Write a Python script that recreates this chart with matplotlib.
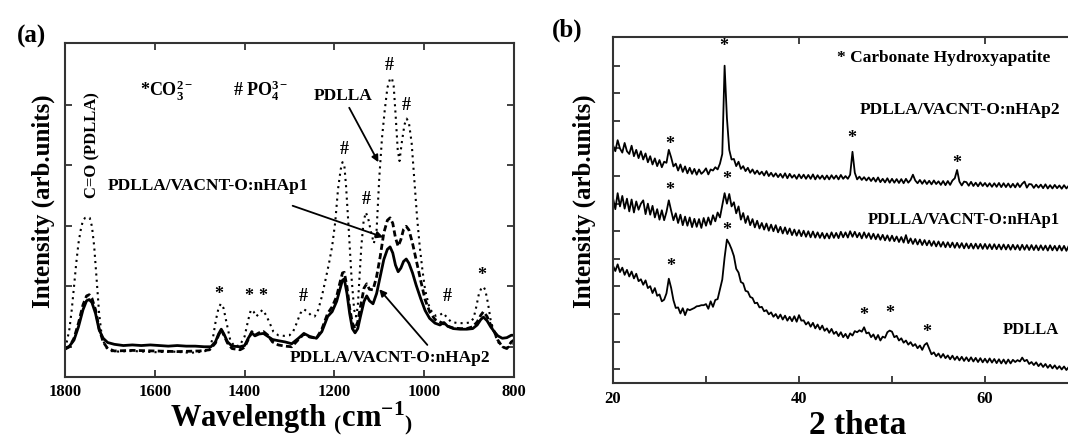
import numpy as np
import matplotlib
matplotlib.use("Agg")
import matplotlib.pyplot as plt

plt.rcParams['font.family'] = 'serif'
plt.rcParams['font.serif'] = ['Liberation Serif', 'DejaVu Serif']
plt.rcParams['font.weight'] = 'bold'
plt.rcParams['mathtext.fontset'] = 'custom'
plt.rcParams['mathtext.rm'] = 'Liberation Serif:bold'
plt.rcParams['mathtext.bf'] = 'Liberation Serif:bold'
plt.rcParams['mathtext.it'] = 'Liberation Serif:bold:italic'

# ---------------- Panel (a): FTIR ----------------
wn_pdlla = [1800, 1795, 1790, 1785, 1780, 1775, 1770, 1765, 1760, 1755, 1750, 1745, 1740, 1735, 1730,
            1724, 1718, 1710, 1700, 1680, 1650, 1600, 1560, 1520, 1490, 1478, 1470, 1464, 1458, 1453,
            1447, 1440, 1432, 1422, 1410, 1400, 1392, 1386, 1380, 1374, 1368, 1360, 1352, 1344, 1336,
            1325, 1312, 1300, 1292, 1284, 1276, 1268, 1260, 1252, 1244, 1236, 1228, 1220, 1212, 1205,
            1198, 1192, 1186, 1182, 1178, 1174, 1168, 1162, 1156, 1152, 1148, 1144, 1140, 1135, 1130,
            1125, 1118, 1112, 1106, 1100, 1094, 1088, 1082, 1076, 1072, 1068, 1064, 1059, 1055, 1050,
            1044, 1039, 1034, 1028, 1022, 1016, 1010, 1004, 998, 990, 982, 974, 966, 958, 950,
            940, 925, 910, 898, 890, 884, 878, 872, 868, 864, 858, 852, 845, 836, 826,
            816, 806, 800]
int_pdlla = [0.47, 0.61, 0.80, 1.11, 1.49, 1.88, 2.21, 2.43, 2.59, 2.63, 2.64, 2.63, 2.49, 2.16, 1.66,
             1.05, 0.67, 0.50, 0.43, 0.42, 0.43, 0.41, 0.42, 0.40, 0.42, 0.47, 0.67, 0.94, 1.14, 1.21,
             1.14, 0.89, 0.61, 0.50, 0.53, 0.67, 0.94, 1.11, 1.08, 1.00, 1.05, 1.11, 1.02, 0.89, 0.75,
             0.69, 0.68, 0.69, 0.75, 0.89, 1.05, 1.12, 1.08, 1.02, 1.00, 1.11, 1.33, 1.60, 1.88, 2.16,
             2.57, 3.10, 3.43, 3.55, 3.51, 3.15, 2.43, 1.66, 1.11, 1.00, 1.16, 1.66, 2.16, 2.57, 2.72,
             2.63, 2.38, 2.21, 2.43, 3.30, 3.95, 4.40, 4.78, 4.93, 4.94, 4.81, 4.37, 3.76, 3.57, 3.87,
             4.17, 4.27, 4.20, 3.87, 3.26, 2.65, 2.16, 1.77, 1.44, 1.19, 1.06, 1.01, 1.02, 1.06, 0.99,
             0.91, 0.89, 0.89, 0.90, 0.97, 1.16, 1.38, 1.48, 1.49, 1.44, 1.22, 0.94, 0.75, 0.58, 0.50,
             0.47, 0.54, 0.55]

wn_hap1 = [1800, 1790, 1780, 1770, 1760, 1752, 1746, 1740, 1732, 1724, 1715, 1705, 1690, 1650, 1600,
           1550, 1500, 1478, 1465, 1458, 1452, 1446, 1438, 1428, 1410, 1400, 1392, 1384, 1377, 1368,
           1358, 1348, 1338, 1325, 1310, 1295, 1280, 1268, 1255, 1240, 1228, 1215, 1205, 1195, 1188,
           1182, 1178, 1172, 1166, 1160, 1154, 1148, 1142, 1134, 1128, 1122, 1114, 1106, 1098, 1090,
           1082, 1076, 1070, 1064, 1058, 1052, 1046, 1040, 1034, 1026, 1018, 1008, 998, 988, 976,
           965, 956, 948, 935, 920, 905, 892, 882, 874, 868, 860, 852, 844, 836, 826,
           816, 806, 800]
int_hap1 = [0.46, 0.50, 0.64, 0.89, 1.19, 1.34, 1.36, 1.30, 1.11, 0.80, 0.58, 0.47, 0.43, 0.44, 0.43,
            0.42, 0.43, 0.45, 0.56, 0.69, 0.78, 0.69, 0.56, 0.47, 0.45, 0.49, 0.62, 0.75, 0.69, 0.73,
            0.75, 0.69, 0.58, 0.53, 0.51, 0.50, 0.62, 0.71, 0.66, 0.64, 0.79, 1.05, 1.16, 1.33, 1.55,
            1.72, 1.73, 1.49, 1.14, 0.89, 0.80, 0.91, 1.16, 1.47, 1.54, 1.45, 1.44, 1.66, 1.99, 2.38,
            2.59, 2.63, 2.54, 2.30, 2.16, 2.27, 2.44, 2.49, 2.43, 2.21, 1.94, 1.60, 1.28, 1.08, 0.95,
            0.91, 0.88, 0.84, 0.81, 0.80, 0.80, 0.83, 0.91, 1.02, 1.08, 1.00, 0.86, 0.75, 0.61, 0.50,
            0.47, 0.58, 0.61]

wn_hap2 = [1800, 1790, 1780, 1770, 1760, 1752, 1746, 1740, 1732, 1724, 1715, 1705, 1690, 1670, 1650,
           1630, 1610, 1590, 1570, 1550, 1530, 1510, 1490, 1475, 1465, 1458, 1452, 1446, 1438, 1428,
           1410, 1400, 1392, 1384, 1377, 1368, 1358, 1348, 1338, 1325, 1310, 1295, 1280, 1268, 1255,
           1240, 1228, 1215, 1205, 1195, 1188, 1182, 1178, 1172, 1166, 1160, 1154, 1148, 1142, 1134,
           1128, 1122, 1114, 1106, 1098, 1090, 1082, 1076, 1070, 1064, 1058, 1052, 1046, 1040, 1034,
           1026, 1018, 1008, 998, 988, 976, 965, 956, 948, 935, 920, 905, 892, 882, 874,
           868, 860, 852, 844, 836, 826, 816, 806, 800]
int_hap2 = [0.47, 0.51, 0.61, 0.83, 1.11, 1.26, 1.28, 1.23, 1.05, 0.78, 0.64, 0.57, 0.54, 0.52, 0.53,
            0.52, 0.53, 0.52, 0.51, 0.52, 0.51, 0.51, 0.50, 0.50, 0.58, 0.71, 0.79, 0.71, 0.58, 0.51,
            0.50, 0.52, 0.64, 0.73, 0.68, 0.71, 0.72, 0.67, 0.62, 0.60, 0.58, 0.55, 0.64, 0.72, 0.67,
            0.64, 0.75, 1.00, 1.08, 1.25, 1.44, 1.60, 1.62, 1.38, 1.05, 0.80, 0.73, 0.80, 1.00, 1.25,
            1.34, 1.26, 1.21, 1.38, 1.66, 1.94, 2.11, 2.15, 2.05, 1.85, 1.74, 1.80, 1.91, 1.95, 1.88,
            1.72, 1.52, 1.30, 1.10, 0.97, 0.89, 0.86, 0.90, 0.84, 0.80, 0.79, 0.79, 0.80, 0.86, 0.95,
            0.99, 0.93, 0.83, 0.75, 0.68, 0.64, 0.65, 0.69, 0.69]

wn_ticks = [1800, 1600, 1400, 1200, 1000, 800]

# ---------------- Panel (b): XRD ----------------
two_theta = np.arange(20.0, 70.51, 0.25)
xrd_hap2 = [
    8.62, 8.40, 8.80, 8.50,  8.35, 8.70, 8.40, 8.30,  8.60, 8.22, 8.45, 8.15,  8.40, 8.10, 8.32, 8.00,
    8.22, 7.92, 8.14, 7.86,  8.08, 7.82, 8.02, 7.98,  8.45, 8.18, 7.85, 7.95,  7.70, 7.92, 7.65, 7.85,
    7.60, 7.80, 7.58, 7.76,  7.55, 7.74, 7.58, 7.66,  7.78, 7.56, 7.74, 7.70,  7.82, 7.74, 7.95, 8.30,
    11.50, 9.60, 8.45, 8.10, 8.12, 7.86, 8.02, 7.76, 7.86, 7.68, 7.80, 7.62,  7.74, 7.58, 7.70, 7.56,
    7.66, 7.52, 7.68, 7.50,  7.62, 7.48, 7.60, 7.46,  7.58, 7.44, 7.60, 7.42,  7.58, 7.44, 7.54, 7.40,
    7.56, 7.42, 7.55, 7.40,  7.54, 7.40, 7.56, 7.38,  7.53, 7.40, 7.52, 7.38,  7.52, 7.38, 7.53, 7.40,
    7.52, 7.38, 7.54, 7.40,  7.50, 7.40, 7.55, 8.38,  7.62, 7.38, 7.48, 7.36,  7.46, 7.34, 7.45, 7.32,
    7.44, 7.30, 7.45, 7.28,  7.40, 7.27, 7.42, 7.26,  7.40, 7.26, 7.39, 7.25,  7.39, 7.24, 7.40, 7.26,
    7.36, 7.55, 7.34, 7.24,  7.36, 7.22, 7.35, 7.21,  7.33, 7.20, 7.34, 7.21,  7.31, 7.18, 7.32, 7.17,
    7.32, 7.18, 7.34, 7.42,  7.72, 7.30, 7.16, 7.30,  7.28, 7.15, 7.29, 7.14,  7.26, 7.13, 7.27, 7.14,
    7.25, 7.12, 7.24, 7.11,  7.24, 7.11, 7.25, 7.10,  7.24, 7.10, 7.23, 7.09,  7.22, 7.09, 7.24, 7.10,
    7.22, 7.30, 7.08, 7.21,  7.20, 7.07, 7.19, 7.08,  7.19, 7.06, 7.20, 7.05,  7.17, 7.05, 7.18, 7.06,
    7.16, 7.04, 7.17, 7.05,  7.15, 7.03, 7.16, 7.04,  7.13, 7.02, 7.12]
xrd_hap1 = [
    6.70, 6.30, 6.88, 6.40,  6.78, 6.32, 6.68, 6.22,  6.65, 6.18, 6.58, 6.28,  6.50, 6.62, 6.12, 6.50,
    6.10, 6.42, 6.00, 6.30,  5.92, 6.26, 5.90, 6.20,  6.62, 6.25, 5.90, 6.15,  5.80, 6.10, 5.72, 6.03,
    5.70, 6.00, 5.65, 5.95,  5.66, 5.94, 5.62, 5.98,  5.70, 6.00, 5.74, 6.08,  5.86, 6.18, 6.00, 6.45,
    6.88, 6.50, 6.85, 6.40,  6.55, 6.15, 6.40, 5.92,  6.16, 5.80, 6.05, 5.72,  5.94, 5.64, 5.88, 5.60,
    5.80, 5.56, 5.78, 5.52,  5.74, 5.50, 5.72, 5.46,  5.66, 5.42, 5.64, 5.40,  5.60, 5.36, 5.56, 5.34,
    5.54, 5.32, 5.52, 5.30,  5.50, 5.28, 5.49, 5.27,  5.46, 5.26, 5.44, 5.24,  5.42, 5.24, 5.46, 5.26,
    5.44, 5.25, 5.48, 5.28,  5.46, 5.27, 5.50, 5.30,  5.48, 5.28, 5.44, 5.24,  5.46, 5.26, 5.43, 5.22,
    5.41, 5.21, 5.39, 5.19,  5.37, 5.17, 5.35, 5.15,  5.34, 5.14, 5.31, 5.11,  5.29, 5.09, 5.36, 5.07,
    5.24, 5.04, 5.22, 5.02,  5.20, 5.00, 5.18, 4.99,  5.16, 4.97, 5.14, 4.95,  5.13, 4.94, 5.11, 4.92,
    5.10, 4.92, 5.09, 4.90,  5.08, 4.90, 5.07, 4.88,  5.06, 4.88, 5.05, 4.87,  5.05, 4.87, 5.04, 4.86,
    5.04, 4.86, 5.03, 4.85,  5.03, 4.85, 5.02, 4.84,  5.02, 4.84, 5.01, 4.83,  5.01, 4.84, 5.00, 4.82,
    5.01, 4.83, 5.00, 4.82,  5.00, 4.82, 4.99, 4.81,  4.99, 4.82, 4.98, 4.80,  4.99, 4.81, 4.97, 4.80,
    4.98, 4.80, 4.97, 4.79,  4.97, 4.80, 4.96, 4.79,  4.96, 4.79, 4.95]
xrd_pdlla = [
    4.25, 4.06, 4.30, 4.02,  4.18, 3.92, 4.10, 3.86,  4.04, 3.79, 3.96, 3.69,  3.76, 3.56, 3.72, 3.44,
    3.51, 3.26, 3.44, 3.16,  3.21, 2.96, 3.02, 3.25,  3.78, 3.45, 3.00, 2.72,  2.74, 2.52, 2.71, 2.46,
    2.68, 2.64, 2.68, 2.72,  2.78, 2.79, 2.82, 2.82,  2.86, 2.69, 2.96, 2.76,  3.01, 3.04, 3.40, 3.75,
    4.55, 5.20, 5.05, 4.85,  4.60, 4.14, 4.00, 3.66,  3.61, 3.34, 3.31, 3.12,  3.08, 2.89, 2.91, 2.74,
    2.76, 2.60, 2.64, 2.49,  2.56, 2.40, 2.50, 2.34,  2.48, 2.30, 2.44, 2.26,  2.40, 2.24, 2.42, 2.22,
    2.46, 2.26, 2.27, 2.12,  2.21, 2.04, 2.18, 1.98,  2.12, 1.94, 2.08, 1.89,  1.98, 1.82, 1.96, 1.78,
    1.86, 1.70, 1.84, 1.66,  1.78, 1.62, 1.80, 1.72,  1.88, 1.84, 1.91, 1.86,  2.02, 1.80, 1.83, 1.66,
    1.76, 1.58, 1.74, 1.54,  1.68, 1.64, 1.84, 1.90,  1.86, 1.66, 1.71, 1.54,  1.62, 1.46, 1.54, 1.39,
    1.48, 1.34, 1.41, 1.26,  1.36, 1.20, 1.38, 1.45,  1.24, 1.04, 1.11, 0.97,  1.07, 0.92, 1.05, 0.90,
    1.00, 0.86, 0.99, 0.84,  0.96, 0.82, 0.95, 0.80,  0.93, 0.79, 0.93, 0.78,  0.91, 0.76, 0.90, 0.75,
    0.88, 0.74, 0.89, 0.74,  0.87, 0.72, 0.86, 0.71,  0.85, 0.70, 0.85, 0.71,  0.84, 0.76, 0.83, 0.78,
    0.92, 0.79, 0.84, 0.69,  0.76, 0.65, 0.75, 0.61,  0.71, 0.58, 0.69, 0.55,  0.66, 0.53, 0.64, 0.51,
    0.61, 0.49, 0.60, 0.47,  0.58, 0.45, 0.56, 0.44,  0.54, 0.42, 0.53]
tt_ticks = [20, 40, 60]
tt_minor = [30, 50]

W, H = 1068, 440
fig = plt.figure(figsize=(W / 100, H / 100), dpi=100)

def box(l, t, r, b):
    return [l / W, 1 - b / H, (r - l) / W, (b - t) / H]

spine_c = '#333333'

# ---- (a)
axa = fig.add_axes(box(65, 43, 514, 377))
axa.plot(wn_pdlla, int_pdlla, color='k', lw=1.5, linestyle=(0, (1, 2)))
axa.plot(wn_hap1, int_hap1, color='k', lw=2.0, linestyle=(0, (2.2, 1.2)))
axa.plot(wn_hap2, int_hap2, color='k', lw=2.0)
axa.set_xlim(1800, 800)
axa.set_ylim(0, 5.52)
axa.set_xticks(wn_ticks)
axa.set_yticks([0.5, 1.5, 2.5, 3.5, 4.5])
axa.tick_params(direction='in', length=5, width=1.3, top=True, right=True,
                labelleft=False, labelsize=12, pad=5, color=spine_c)
for lab in axa.get_xticklabels():
    lab.set_fontweight('bold')
for s in axa.spines.values():
    s.set_linewidth(1.5)
    s.set_color(spine_c)

tk = dict(fontsize=13, fontweight='bold', ha='center', va='center')
axa.text(1632, 4.73, r"*CO$_3^{2-}$", fontsize=13, fontweight='bold', ha='left', va='center')
axa.text(1425, 4.73, r"# PO$_4^{3-}$", fontsize=13, fontweight='bold', ha='left', va='center')
axa.text(1739, 3.84, "C=O (PDLLA)", rotation=90, fontsize=12, fontweight='bold', ha='center', va='center')
axa.text(1181, 4.64, "PDLLA", fontsize=12.5, fontweight='bold', ha='center', va='center')
axa.text(1706, 3.15, "PDLLA/VACNT-O:nHAp1", fontsize=12.5, fontweight='bold', ha='left', va='center')
axa.text(1300, 0.31, "PDLLA/VACNT-O:nHAp2", fontsize=12.5, fontweight='bold', ha='left', va='center')
ap = dict(arrowstyle='-|>', color='k', lw=1.3, mutation_scale=10, shrinkA=0, shrinkB=0)
axa.annotate("", xy=(1102, 3.55), xytext=(1167, 4.45), arrowprops=ap)
axa.annotate("", xy=(1091, 2.31), xytext=(1293, 2.83), arrowprops=ap)
axa.annotate("", xy=(1100, 1.45), xytext=(993, 0.53), arrowprops=ap)
for (xx, yy, s) in [(1078, 5.14, '#'), (1041, 4.49, '#'), (1178, 3.76, '#'), (1130, 2.93, '#'),
                    (1270, 1.33, '#'), (948, 1.33, '#'), (871, 1.67, '*'), (1458, 1.37, '*'),
                    (1390, 1.33, '*'), (1359, 1.33, '*')]:
    axa.text(xx, yy, s, **tk)

fig.text(31 / W, 1 - 36 / H, "(a)", fontsize=18, fontweight='bold', ha='center', va='center')
fig.text(43 / W, 1 - 201 / H, "Intensity (arb.units)", rotation=90, fontsize=18,
         fontweight='bold', ha='center', va='center')
fig.text(291 / W, 1 - 426 / H, r"Wavelength $_($cm$^{-1}$$_)$", fontsize=22,
         fontweight='bold', ha='center', va='baseline')

# ---- (b)
xr = 613 + 60 * 9.3
axb = fig.add_axes(box(613, 37, xr, 383))
for series in (xrd_hap2, xrd_hap1, xrd_pdlla):
    axb.plot(two_theta, series, color='k', lw=1.3)
axb.set_xlim(20, 80)
axb.set_ylim(0, 12.54)
axb.set_xticks(tt_ticks)
axb.set_xticks(tt_minor, minor=True)
axb.set_yticks(np.arange(0.5, 12, 1.0))
axb.tick_params(which='major', direction='in', length=5, width=1.3, top=True, right=False,
                labelleft=False, labelsize=12, pad=6, color=spine_c)
axb.tick_params(which='minor', direction='in', length=5, width=1.3, top=False, bottom=True,
                color=spine_c)
for lab in axb.get_xticklabels():
    lab.set_fontweight('bold')
for s in axb.spines.values():
    s.set_linewidth(1.5)
    s.set_color(spine_c)

for (xx, yy) in [(26.1, 8.66), (31.9, 12.21), (26.1, 6.99), (32.2, 7.36), (26.25, 4.24),
                 (32.2, 5.54), (45.7, 8.87), (57.0, 7.96), (47.0, 2.46), (49.8, 2.52), (53.75, 1.82)]:
    axb.text(xx, yy, '*', fontsize=13, fontweight='bold', ha='center', va='center')

fig.text(837 / W, 1 - 58 / H, "* Carbonate Hydroxyapatite", fontsize=12.5, fontweight='bold',
         ha='left', va='center')
fig.text(860 / W, 1 - 110 / H, "PDLLA/VACNT-O:nHAp2", fontsize=12.5, fontweight='bold',
         ha='left', va='center')
fig.text(868 / W, 1 - 220 / H, "PDLLA/VACNT-O:nHAp1", fontsize=12, fontweight='bold',
         ha='left', va='center')
fig.text(1031 / W, 1 - 330 / H, "PDLLA", fontsize=12, fontweight='bold', ha='center', va='center')
fig.text(567 / W, 1 - 30 / H, "(b)", fontsize=18, fontweight='bold', ha='center', va='center')
fig.text(584 / W, 1 - 201 / H, "Intensity (arb.units)", rotation=90, fontsize=18,
         fontweight='bold', ha='center', va='center')
fig.text(858 / W, 1 - 425 / H, "2 theta", fontsize=24, fontweight='bold', ha='center', va='center')

fig.savefig("out.png", dpi=100)
